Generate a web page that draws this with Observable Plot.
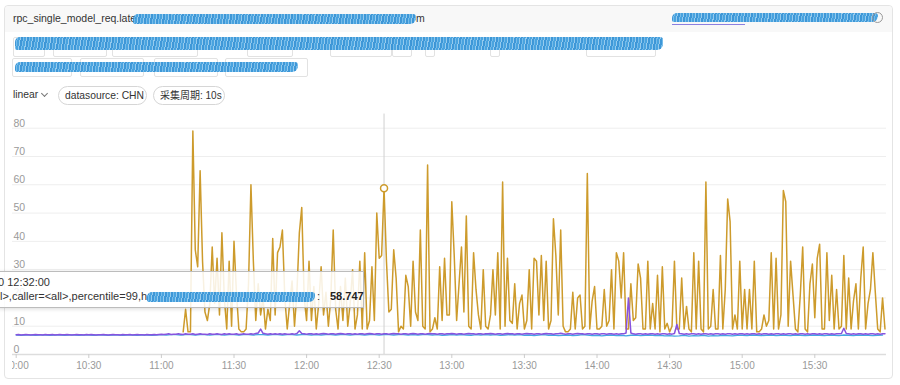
<!DOCTYPE html>
<html><head><meta charset="utf-8">
<script src="https://cdn.jsdelivr.net/npm/d3@7"></script>
<script src="https://cdn.jsdelivr.net/npm/@observablehq/plot@0.6"></script>
<style>
body{margin:0;width:900px;height:385px;overflow:hidden;background:#fff;font-family:"Liberation Sans",Arial,"Noto Sans CJK SC",sans-serif;position:relative;color:#333}
.a{position:absolute}
.card{left:4px;top:5px;width:887px;height:372px;border:1px solid #e4e4e4;border-radius:4px}
.hdr{left:5px;top:6px;width:887px;height:26px;background:#f8f8f8;border-radius:4px 4px 0 0}
.scr{background:repeating-linear-gradient(100deg,#2d8ed4 0 2px,#6ab6e8 2px 3px,#3a9bdc 3px 5px,#8cc6ec 5px 6px);border-radius:5px 3px 6px 2px;opacity:.92}
.box{border:1px solid #e2e2e2;border-radius:2px;box-sizing:border-box}
.chip{border:1px solid #d6d6d6;border-radius:11px;height:19px;box-sizing:border-box;font-size:10.3px;line-height:17px;padding-left:6px;top:86px;color:#333}
#plotwrap{left:12px;top:110px;width:888px;height:275px;overflow:hidden}
#plotwrap svg{position:absolute;left:-12px;top:0;max-width:none}
.tip{left:-2px;top:271px;width:366px;height:37px;border:1px solid #bcbcbc;background:rgba(255,255,255,0.86);box-shadow:0 1px 4px rgba(0,0,0,0.15);box-sizing:border-box}
.tt{font-size:11px;white-space:nowrap;color:#333}
</style></head>
<body>
<div class="a card"></div>
<div class="a hdr"></div>
<div class="a" style="left:13px;top:12px;font-size:10.5px;color:#333">rpc_single_model_req.late</div>
<div class="a scr" style="left:133px;top:14px;width:283px;height:10px"></div>
<div class="a" style="left:416px;top:12px;font-size:10.5px;color:#333">m</div>
<div class="a scr" style="left:672px;top:13px;width:206px;height:9px"></div>
<div class="a" style="left:672px;top:24px;width:73px;height:1px;background:#8b7fe0"></div>
<div class="a" style="left:872px;top:12px;width:9px;height:9px;border:1px solid #9a9a9a;border-radius:50%"></div>

<div id="row2"></div>
<div class="a scr" style="left:15px;top:37px;width:648px;height:13px"></div>
<div id="row3"></div>
<div class="a scr" style="left:15px;top:62px;width:283px;height:10px"></div>

<div class="a" style="left:13px;top:89px;font-size:10.3px;color:#333">linear</div>
<div class="a" style="left:42px;top:91px;width:4px;height:4px;border-right:1px solid #777;border-bottom:1px solid #777;transform:rotate(45deg)"></div>
<div class="a chip" style="left:58px;width:89px">datasource: CHN</div>
<div class="a chip" style="left:153px;width:72px;font-size:10px">采集周期: 10s</div>

<div id="plotwrap" class="a"></div>

<div class="a tip"></div>
<div class="a tt" style="left:-2px;top:276px">0 12:32:00</div>
<div class="a tt" style="left:0px;top:290px">l&gt;,caller=&lt;all&gt;,percentile=99,h</div>
<div class="a scr" style="left:147px;top:292px;width:168px;height:10px"></div>
<div class="a tt" style="left:317px;top:290px">:</div>
<div class="a tt" style="left:330px;top:290px;font-weight:bold;color:#222">58.747</div>

<script>
// ---------- data ----------
const xTickLabels = ["10:00","10:30","11:00","11:30","12:00","12:30","13:00","13:30","14:00","14:30","15:00","15:30"];
const yTickValues = [0,10,20,30,40,50,60,70,80];

// gold series: one value per minute, starting 11:09
const goldStartMinute = 69;
const goldValues = [
 8,16,8,8,79,37,31,65,33,15, 12,18,38,18,34,14,43,20,9,33,
 10,40,22,9,8,8,9,25,60,33, 12,25,14,20,9,16,12,41,14,36,
 38,44,20,9,18,26,10,22,43,52, 20,12,33,12,24,9,18,31,14,22,
 10,20,44,16,9,24,12,27,10,18, 30,9,14,33,9,36,9,12,31,12,
 50,34,35,58.747,33,15,16,37,27,8, 10,9,28,24,10,33,15,12,44,10,
 9,67,8,9,13,9,31,12,34,14, 14,54,35,12,25,38,15,49,10,9,
 36,23,14,9,30,10,9,14,30,14, 36,9,61,10,34,12,11,25,9,18,
 21,9,12,30,9,34,33,14,35,12, 33,9,12,48,35,14,44,10,8,8,
 9,22,9,20,21,9,10,64,9,19, 24,9,9,10,23,10,12,30,9,36,
 33,20,36,9,9,25,12,13,32,27, 9,9,33,9,18,9,28,8,31,9,
 11,8,10,33,9,9,27,9,17,9, 8,36,9,33,9,8,61,9,10,23,
 9,9,35,9,23,55,47,9,14,9, 33,9,23,9,23,9,33,8,8,9,
 14,10,12,36,9,34,9,14,58,54, 10,33,21,9,8,21,38,9,8,25,
 32,13,34,39,9,9,36,12,28,9, 23,9,10,35,9,27,9,19,25,9,
 27,38,9,18,23,36,22,9,8,20, 9
];

// purple series: one value per minute from 10:00
const purpleValues = [
 7.0,7.1,6.9,7.0,7.1,7.0,6.9,7.0,7.1,7.0,7.0,6.9,7.1,7.0,7.0,7.1,6.9,7.0,7.1,7.0,
 7.0,7.1,7.0,6.9,7.0,7.1,7.0,7.0,6.9,7.1,7.0,7.1,7.0,6.9,7.0,7.0,7.1,7.0,6.9,7.0,
 7.1,7.0,7.0,6.9,7.1,7.0,7.0,7.1,6.9,7.0,7.1,7.0,7.0,6.9,7.1,7.0,7.0,7.1,7.0,7.1,
 7.2,7.1,7.2,7.3,7.1,7.2,7.2,7.3,7.2,7.1,7.3,7.2,7.2,7.3,7.1,7.2,7.3,7.2,7.2,7.1,
 7.3,7.2,7.2,7.3,7.2,7.1,7.3,7.2,7.3,7.2,7.2,7.3,7.1,7.2,7.3,7.2,7.2,7.3,7.2,7.4,
 7.6,9.0,7.5,7.3,7.2,7.3,7.2,7.3,7.2,7.3,7.2,7.3,7.2,7.2,7.3,7.2,7.4,8.4,7.4,7.3,
 7.2,7.3,7.3,7.2,7.3,7.2,7.3,7.4,7.3,7.2,7.3,7.3,7.2,7.3,7.4,7.3,7.2,7.3,7.3,7.2,
 7.3,7.2,7.3,7.3,7.2,7.3,7.4,7.3,7.2,7.3,7.3,7.2,7.3,7.3,7.2,7.3,7.4,7.3,7.3,7.2,
 7.3,7.3,7.2,7.3,7.4,7.3,7.2,7.3,7.3,7.2,7.3,7.4,7.3,7.3,7.2,7.3,7.3,7.2,7.3,7.3,
 7.4,7.3,7.2,7.3,7.3,7.2,7.3,7.4,7.3,7.3,7.2,7.3,7.3,7.2,7.3,7.3,7.4,7.3,7.2,7.3,
 7.3,7.2,7.3,7.4,7.3,7.3,7.2,7.3,7.3,7.2,7.3,7.4,7.3,7.3,7.2,7.3,7.3,7.2,7.3,7.4,
 7.3,7.3,7.2,7.3,7.3,7.5,7.3,7.2,7.3,7.3,7.2,7.3,7.4,7.3,7.3,7.2,7.3,7.3,7.2,7.3,
 7.3,7.2,7.3,7.3,7.2,7.3,7.3,7.2,7.3,7.2,7.3,7.3,7.6,20.0,7.6,7.3,7.2,7.3,7.3,7.2,
 7.3,7.2,7.3,7.3,7.2,7.3,7.2,7.3,7.3,7.2,7.3,7.2,7.4,10.6,7.4,7.3,7.2,7.3,7.2,7.3,
 7.3,7.2,7.3,7.2,7.3,7.3,7.2,7.3,7.2,7.3,7.3,7.2,7.3,7.2,7.3,7.3,7.2,7.3,7.2,7.3,
 7.3,7.2,7.3,7.2,7.3,7.3,7.2,7.3,7.2,7.3,7.3,7.2,7.3,7.2,7.3,7.3,7.2,7.3,7.2,7.3,
 7.3,7.2,7.3,7.2,7.3,7.3,7.2,7.3,7.2,7.3,7.3,7.2,7.3,7.2,7.3,7.3,7.2,7.3,7.2,7.3,
 7.3,7.4,9.3,7.4,7.3,7.2,7.3,7.2,7.3,7.3,7.2,7.3,7.2,7.3,7.3,7.2,7.3,7.2,7.3,7.3
];

// blue series: one value every 2 minutes from 10:00
const blueStepMinutes = 2;
const blueValues = [
 6.9,6.8,6.9,6.9,6.8,6.9,6.9,6.8,6.9,6.9,6.8,6.9,6.9,6.8,6.9,
 6.9,6.8,6.9,6.9,6.8,6.9,6.9,6.8,6.9,6.9,6.8,6.9,6.9,6.8,6.9,
 7.0,6.9,7.0,7.0,6.9,7.0,7.0,6.9,7.0,7.0,6.9,7.0,7.0,6.9,7.0,
 7.0,6.9,7.0,7.0,6.9,7.0,7.0,6.9,7.0,7.0,6.9,7.0,7.0,6.9,7.0,
 7.0,6.9,7.0,6.9,7.0,7.0,6.9,7.0,7.0,6.9,7.0,7.0,6.9,7.0,7.0,
 6.9,7.0,7.0,6.9,7.0,7.0,6.9,7.0,6.9,7.0,7.0,6.9,7.0,6.8,6.9,
 7.0,6.9,7.0,6.9,6.8,7.0,6.9,7.0,6.9,7.0,6.8,6.9,7.0,6.9,7.0,
 6.8,6.9,6.7,6.9,7.0,6.8,6.9,6.7,6.8,6.9,6.7,6.8,7.0,6.9,6.7,
 6.8,6.6,6.8,6.9,6.7,6.8,6.6,6.8,6.9,6.7,6.8,6.9,6.7,6.8,6.6,
 6.7,6.5,6.6,6.8,6.5,6.7,6.6,6.8,6.5,6.7,6.6,6.8,6.7,6.6,6.8,
 6.8,6.7,6.9,6.8,6.7,6.8,6.9,6.7,6.8,6.8,6.7,6.9,6.8,6.7,6.8,
 6.9,6.8,6.7,6.9,6.8,6.7,6.9,6.8,6.7,6.9,6.8,6.8,6.7,6.8,6.9
];

const hoverTime = "12:32";
const hoverValue = 58.747;

// ---------- build ----------
const base = Date.UTC(2024, 0, 1, 0, 0);
const tm = m => new Date(base + m * 60000);
const parseHM = s => { const [h, m] = s.split(":").map(Number); return tm(h * 60 + m); };
const start = parseHM("10:00");
const at = m => new Date(+start + m * 60000);

const gold = goldValues.map((v, i) => ({t: at(goldStartMinute + i), v}));
const purple = purpleValues.map((v, i) => ({t: at(i), v}));
const blue = blueValues.map((v, i) => ({t: at(i * blueStepMinutes), v}));
const xTicks = xTickLabels.map(parseHM);
const fmt = d3.utcFormat("%H:%M");
const GOLD = "#cd9b2c", PURPLE = "#8853de", BLUE = "#46a6e2";

const chart = Plot.plot({
  width: 900, height: 275,
  marginLeft: 12, marginRight: 14, marginTop: 0, marginBottom: 31,
  style: {fontFamily: '"Liberation Sans", Arial, sans-serif', background: "transparent", overflow: "visible"},
  x: {type: "utc", domain: [at(0), at(360)], range: [15.7, 886.9]},
  y: {domain: [0, 80], range: [244, 17.7], axis: null},
  marks: [
    Plot.ruleY(yTickValues.filter(v => v > 0), {stroke: "#eeeeee"}),
    Plot.ruleY([0], {stroke: "#dddddd", strokeWidth: 1.5}),
    Plot.axisX({ticks: xTicks, tickFormat: fmt, tickSize: 4, tickPadding: 3, stroke: "#cccccc", fill: "#999999", fontSize: 10, label: null}),
    Plot.text(yTickValues, {y: d => d, text: d => String(d), frameAnchor: "left", textAnchor: "start", dx: 1, dy: -5, fill: "#9a9a9a", fontSize: 10.5}),
    Plot.ruleX([parseHM(hoverTime)], {y1: 0, y2: 85, stroke: "#d0d0d0"}),
    Plot.line(gold, {x: "t", y: "v", stroke: GOLD, strokeWidth: 1.5}),
    Plot.line(blue, {x: "t", y: "v", stroke: BLUE, strokeWidth: 1.3}),
    Plot.line(purple, {x: "t", y: "v", stroke: PURPLE, strokeWidth: 1.5}),
    Plot.dot([{t: parseHM(hoverTime), v: hoverValue}], {x: "t", y: "v", r: 3.5, stroke: GOLD, fill: "white", strokeWidth: 1.5})
  ]
});
document.getElementById("plotwrap").appendChild(chart);

// filter boxes (decorative frames)
const row2 = [[13,32],[53,54],[112,86],[247,46],[330,62],[392,20],[425,10],[490,10],[586,70]];
const row3 = [[12,60],[80,64],[154,64],[225,83]];
function boxes(id, list, top, h) {
  const el = document.getElementById(id);
  for (const [l, w] of list) {
    const d = document.createElement("div");
    d.className = "a box";
    d.style.cssText = `left:${l}px;top:${top}px;width:${w}px;height:${h}px`;
    el.appendChild(d);
  }
}
boxes("row2", row2, 37, 20);
boxes("row3", row3, 58, 19);
</script>
</body></html>
